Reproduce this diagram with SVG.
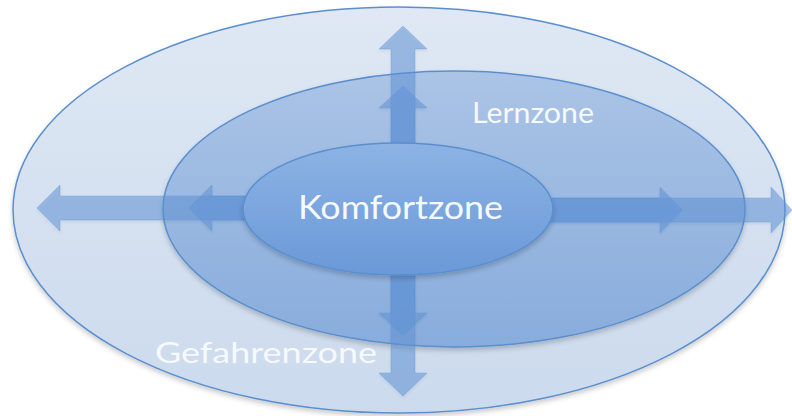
<svg xmlns="http://www.w3.org/2000/svg" width="792" height="416" viewBox="0 0 792 416">
  <defs>
    <linearGradient id="gOuter" x1="0" y1="0" x2="0" y2="1">
      <stop offset="0" stop-color="#dfe8f4"/>
      <stop offset="1" stop-color="#cbdaed"/>
    </linearGradient>
    <linearGradient id="gMid" x1="0" y1="0" x2="0" y2="1">
      <stop offset="0" stop-color="#abc4e6"/>
      <stop offset="1" stop-color="#88acdc"/>
    </linearGradient>
    <linearGradient id="gInner" x1="0" y1="0" x2="0" y2="1">
      <stop offset="0" stop-color="#8db3e4"/>
      <stop offset="1" stop-color="#6a99d8"/>
    </linearGradient>
    <filter id="shadow" x="-10%" y="-10%" width="120%" height="130%">
      <feDropShadow dx="0" dy="3" stdDeviation="2.5" flood-color="#000" flood-opacity="0.2"/>
    </filter>
    <filter id="ashadow" x="-20%" y="-20%" width="140%" height="140%">
      <feDropShadow dx="0" dy="1.5" stdDeviation="1.2" flood-color="#1f3f6f" flood-opacity="0.18"/>
    </filter>
  </defs>
  <style>
    .zone { stroke: #5a8fcf; stroke-width: 1.5; }
    .arrow { fill: #5f93d8; fill-opacity: 0.5; stroke: #5a8fcf; stroke-opacity: 0.3; stroke-width: 1; }
    .label { font-family: Lato, "Open Sans", "Liberation Sans", sans-serif; fill: #f6f9fd; }
  </style>

  <g id="gefahrenzone">
    <ellipse class="zone" cx="399" cy="210" rx="386" ry="203" fill="url(#gOuter)" filter="url(#shadow)"/>
    <text class="label" x="155" y="363" font-size="29" textLength="222" lengthAdjust="spacingAndGlyphs">Gefahrenzone</text>
  </g>

  <g id="lernzone">
    <ellipse class="zone" cx="454" cy="209" rx="291" ry="138" fill="url(#gMid)" filter="url(#shadow)"/>
    <text class="label" x="472" y="123" font-size="28" textLength="122" lengthAdjust="spacingAndGlyphs">Lernzone</text>
  </g>

  <g id="connectors" filter="url(#ashadow)">
    <!-- up -->
    <path class="arrow" d="M391,209 L391,49 L379,49 L403,26 L427,49 L415,49 L415,209 Z"/>
    <path class="arrow" d="M391,209 L391,108 L379,108 L403,86 L427,108 L415,108 L415,209 Z"/>
    <!-- down -->
    <path class="arrow" d="M391,209 L391,373 L379,373 L403,396 L427,373 L415,373 L415,209 Z"/>
    <path class="arrow" d="M391,209 L391,313 L379,313 L403,335 L427,313 L415,313 L415,209 Z"/>
    <!-- left -->
    <path class="arrow" d="M398,196 L60,196 L60,185 L37,208 L60,231 L60,220 L398,220 Z"/>
    <path class="arrow" d="M398,196 L212,196 L212,185 L189,208 L212,231 L212,220 L398,220 Z"/>
    <!-- right -->
    <path class="arrow" d="M398,198 L771,198 L771,187 L792,210 L771,233 L771,222 L398,222 Z"/>
    <path class="arrow" d="M398,198 L660,198 L660,187 L682,210 L660,233 L660,222 L398,222 Z"/>
  </g>

  <g id="komfortzone">
    <ellipse class="zone" cx="398" cy="209" rx="155" ry="66" fill="url(#gInner)" filter="url(#shadow)"/>
    <text class="label" x="298" y="219" font-size="33" textLength="205" lengthAdjust="spacingAndGlyphs">Komfortzone</text>
  </g>
</svg>
